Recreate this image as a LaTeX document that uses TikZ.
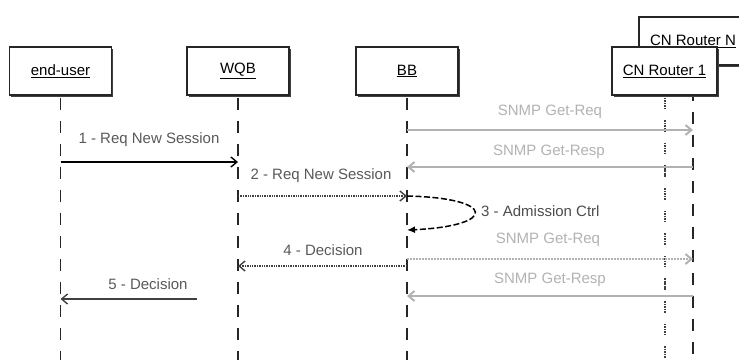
\documentclass[tikz,border=0pt]{standalone}
\usepackage{fontspec}
\setmainfont{Liberation Sans}
\usetikzlibrary{arrows.meta}

\begin{document}
\begin{tikzpicture}[x=1pt,y=-1pt,font=\fontsize{15}{18}\selectfont,
  objbox/.style={draw=black!85,line width=1.2pt,fill=white,minimum width=102pt,minimum height=48pt,inner sep=0pt,
    preaction={fill=black!75,transform canvas={xshift=1.8pt,yshift=-1.8pt}}},
  lifeline/.style={line width=1.8pt,black!85,dash pattern=on 12pt off 11pt},
  dotline/.style={line width=2pt,black!75,dash pattern=on 1.6pt off 0.9pt on 1.6pt off 0.9pt on 1.6pt off 0.9pt on 1.6pt off 0.9pt on 1.6pt off 11pt},
  msg/.style={line width=1.4pt,-{Straight Barb[length=6pt,width=10pt]}},
  snmp/.style={msg,line width=2pt,black!30},
  lbl/.style={black!65,inner sep=1pt},
  snmplbl/.style={black!30,inner sep=1pt}]
\useasboundingbox (0,0) rectangle (739,360);
\clip (0,0) rectangle (739,360);
\coordinate (bot) at (0,360);

% objects
\node[objbox] (eu) at (60.5,71) {\underline{end-user}};
\node[objbox] (wqb) at (238,71) {\underline{WQB}};
\node[objbox] (bb) at (407,71) {\underline{BB}};
\node[objbox,minimum width=108pt] (cnn) at (693,41) {\underline{CN Router N}};

% lifelines
\draw[lifeline] (eu.south) ++(0,2) -- (eu.south |- bot);
\draw[lifeline] (wqb.south) ++(0,2) -- (wqb.south |- bot);
\draw[lifeline] (bb.south) ++(0,2) -- (bb.south |- bot);
\draw[lifeline] (cnn.south) -- (cnn.south |- bot);
\node[objbox,minimum width=105pt] (cn1) at (664.5,71) {\underline{CN Router 1}};
\draw[dotline] (cn1.south) ++(0,2) -- (cn1.south |- bot);

% messages
\node[lbl] (lbl1) at (149,140) {1 - Req New Session};
\draw[msg,black] (eu |- 0,162) -- (wqb |- 0,162);
\node[snmplbl] (snmp1) at (550,112) {SNMP Get-Req};
\draw[snmp] (bb |- 0,130) -- (cnn |- 0,130);
\node[snmplbl] (snmp2) at (549,152) {SNMP Get-Resp};
\draw[snmp] (cnn |- 0,167) -- (bb |- 0,167);
\node[lbl] (lbl2) at (321,176) {2 - Req New Session};
\draw[msg,black!75,densely dotted] (wqb |- 0,196) -- (bb |- 0,196);
\node[lbl,anchor=west,black!70] (lbl3) at (480,211) {3 - Admission Ctrl};
\draw[line width=1.5pt,dash pattern=on 6pt off 2.5pt,-{Latex[length=8pt,width=7pt]}] (bb |- 0,196)
  .. controls (497,198) and (497,226) .. (bb |- 0,230);
\node[snmplbl] (snmp3) at (548,240) {SNMP Get-Req};
\draw[snmp,densely dotted] (bb |- 0,259) -- (cnn |- 0,259);
\node[lbl] (lbl4) at (323,250) {4 - Decision};
\draw[msg,black!75,densely dotted] (bb |- 0,266) -- (wqb |- 0,266);
\node[snmplbl] (snmp4) at (550,280) {SNMP Get-Resp};
\draw[snmp] (cnn |- 0,296) -- (bb |- 0,296);
\node[lbl] (lbl5) at (148,284) {5 - Decision};
\coordinate (m5) at (197,299);
\draw[msg,black!75] (m5) -- (eu |- m5);
\end{tikzpicture}
\end{document}
